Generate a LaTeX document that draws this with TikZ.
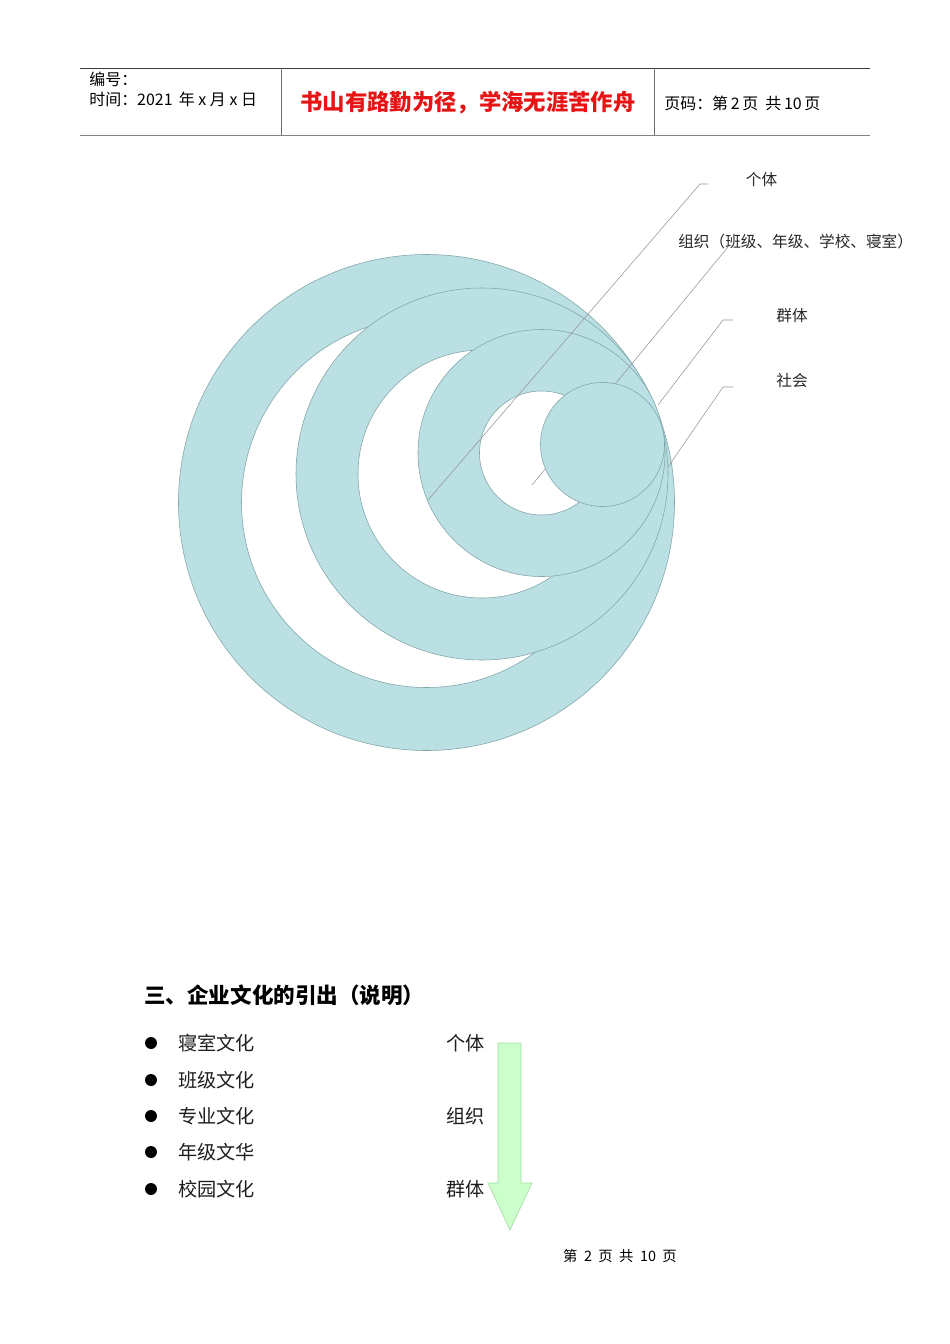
\documentclass[tikz,border=0pt]{standalone}
\usepackage{fontspec}
\setmainfont{Noto Sans CJK SC}
\definecolor{ringteal}{RGB}{187,224,227}
\definecolor{ringline}{RGB}{128,165,168}
\definecolor{calloutgray}{RGB}{150,150,150}
\definecolor{labeltext}{RGB}{40,40,40}
\definecolor{itemtext}{RGB}{30,30,30}
\definecolor{topline}{RGB}{60,60,60}
\definecolor{botline}{RGB}{130,130,130}
\definecolor{sepline}{RGB}{110,110,110}
\definecolor{mottored}{RGB}{230,20,20}
\definecolor{arrowfill}{RGB}{204,255,204}
\definecolor{arrowline}{RGB}{160,222,160}
\begin{document}
\begin{tikzpicture}[x=0.6263pt,y=-0.6263pt,
  ringfill/.style={fill=ringteal, even odd rule},
  ringedge/.style={draw=ringline, line width=0.35pt},
  callout/.style={draw=calloutgray, line width=0.35pt},
  lbl/.style={font=\fontsize{9.8pt}{11pt}\selectfont, inner sep=0pt, text=labeltext},
  hdr/.style={font=\fontsize{10pt}{11pt}\selectfont, inner sep=0pt, anchor=west},
  item/.style={font=\fontsize{12pt}{14pt}\selectfont, inner sep=0pt, anchor=west, text=itemtext},
  bulletdot/.style={circle, fill=black, inner sep=0pt, minimum size=7.5pt},
  arrowshape/.style={fill=arrowfill, draw=arrowline, line width=0.4pt}
]
\useasboundingbox (0,0) rectangle (950,1344);
\fill[white] (0,0) rectangle (950,1344);

% ---------- header ----------
\coordinate (htl) at (80,68);
\coordinate (htr) at (870,68);
\coordinate (hbl) at (80,135.5);
\coordinate (hbr) at (870,135.5);
\draw[line width=0.6pt, topline] (htl) -- (htr);
\draw[line width=1.1pt, botline] (hbl) -- (hbr);
\coordinate (v1t) at (281,68); \coordinate (v1b) at (281,135);
\coordinate (v2t) at (654.5,68); \coordinate (v2b) at (654.5,135);
\draw[line width=0.5pt, sepline] (v1t) -- (v1b);
\draw[line width=0.5pt, sepline] (v2t) -- (v2b);
\node[hdr] (bianhao) at (89,79) {编号：};
\node[hdr] (shijian) at (89,99) {时间：2021\,\ 年\ x\ 月\ x\ 日};
\node[font=\fontsize{14pt}{16pt}\selectfont\bfseries, text=mottored, inner sep=0pt] (motto) at (468,103) {书山有路勤为径，学海无涯苦作舟};
\node[hdr] (yema) at (664,103) {页码：第\,2\,页 \ 共\,10\,页};

% ---------- rings ----------
\coordinate (c1) at (426.5,502.5);
\coordinate (c2) at (482,474);
\coordinate (c3) at (541.5,453);
\coordinate (c4) at (602.5,444.5);

\fill[ringfill] (c1) circle (248) (c1) circle (185);
\draw[ringedge] (c1) circle (248) (c1) circle (185);
\fill[ringfill] (c2) circle (186) (c2) circle (124);
\draw[ringedge] (c2) circle (186) (c2) circle (124);
\fill[ringfill] (c3) circle (123.5) (c3) circle (62);
\draw[ringedge] (c3) circle (123.5) (c3) circle (62);

% callout lines
\coordinate (zz1) at (728,247);
\coordinate (zz2) at (532,485);
\draw[callout] (zz1) -- (zz2);
\coordinate (qt0) at (733,320);
\coordinate (qt1) at (723,320);
\coordinate (qt2) at (658,405);
\draw[callout] (qt0) -- (qt1) -- (qt2);
\coordinate (sh0) at (733,387);
\coordinate (sh1) at (723,387);
\coordinate (sh2) at (668,467);
\draw[callout] (sh0) -- (sh1) -- (sh2);

\fill[ringteal] (c4) circle (62);
\draw[ringedge] (c4) circle (62);

\coordinate (gt0) at (708,184);
\coordinate (gt1) at (700,184);
\coordinate (gt2) at (428,500);
\draw[callout] (gt0) -- (gt1) -- (gt2);

\node[lbl] (geti) at (761.5,180) {个体};
\node[lbl, anchor=west] (zuzhi) at (678,242) {组织（班级、年级、学校、寝室）};
\node[lbl] (qunti) at (792,316) {群体};
\node[lbl] (shehui) at (792,381) {社会};

% ---------- section ----------
\node[font=\fontsize{13.5pt}{16pt}\selectfont\bfseries, inner sep=0pt, anchor=west] (heading) at (144,995) {三、企业文化的引出（说明）};

\node[bulletdot] (b1) at (151,1043) {};
\node[bulletdot] (b2) at (151,1080) {};
\node[bulletdot] (b3) at (151,1116) {};
\node[bulletdot] (b4) at (151,1152) {};
\node[bulletdot] (b5) at (151,1189) {};
\node[item] (i1) at (178,1043) {寝室文化};
\node[item] (i2) at (178,1080) {班级文化};
\node[item] (i3) at (178,1116) {专业文化};
\node[item] (i4) at (178,1152) {年级文华};
\node[item] (i5) at (178,1189) {校园文化};
\node[item] (r1) at (446,1043) {个体};
\node[item] (r2) at (446,1116) {组织};
\node[item] (r3) at (446,1189) {群体};

% arrow
\coordinate (a1) at (498,1043);
\coordinate (a2) at (521,1043);
\coordinate (a3) at (521,1183);
\coordinate (a4) at (532,1183);
\coordinate (a5) at (510,1230);
\coordinate (a6) at (488,1183);
\coordinate (a7) at (498,1183);
\draw[arrowshape] (a1) -- (a2) -- (a3) -- (a4) -- (a5) -- (a6) -- (a7) -- cycle;

% footer
\node[font=\fontsize{9pt}{10pt}\selectfont, inner sep=0pt] (footer) at (620,1256) {第 \ 2 \ 页 \ 共 \ 10 \ 页};
\end{tikzpicture}
\end{document}
